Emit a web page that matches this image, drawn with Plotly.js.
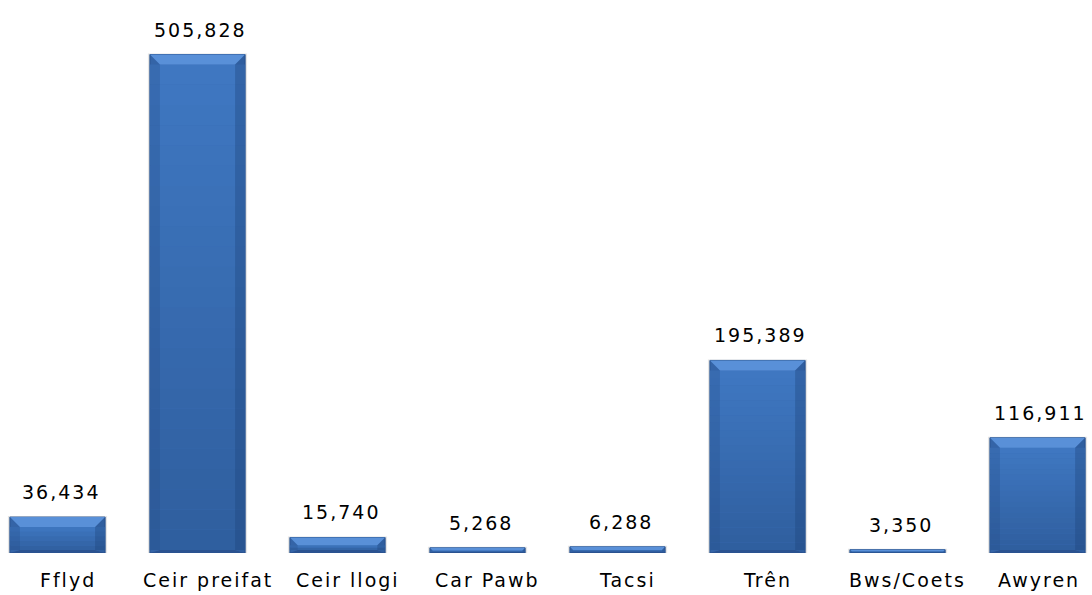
<!DOCTYPE html>
<html>
<head>
<meta charset="utf-8">
<script src="https://cdn.plot.ly/plotly-3.0.1.min.js"></script>
<style>
html,body{margin:0;padding:0;background:#fff;}
#chart{width:1092px;height:595px;}
#chart .annotation-text{letter-spacing:2px;}
</style>
</head>
<body>
<div id="chart"></div>
<script>
const categories = ["Fflyd", "Ceir preifat", "Ceir llogi", "Car Pawb", "Tacsi", "Trên", "Bws/Coets", "Awyren"];
const values = [36434, 505828, 15740, 5268, 6288, 195389, 3350, 116911];
const valueLabels = ["36,434", "505,828", "15,740", "5,268", "6,288", "195,389", "3,350", "116,911"];

const W = 1092, H = 595, MB = 42;
const xRange = [-0.4107, 7.389];
const yRange = [0, 561130];
const barWidth = 0.68;
const plotH = H - MB;
const unitsPerPxY = (yRange[1] - yRange[0]) / plotH;
const unitsPerPxX = (xRange[1] - xRange[0]) / W;
const idx = categories.map((c, i) => i);

function mix(c1, c2, t) {
  const a = c1.match(/\w\w/g).map(h => parseInt(h, 16));
  const b = c2.match(/\w\w/g).map(h => parseInt(h, 16));
  return 'rgb(' + a.map((v, k) => Math.round(v + (b[k] - v) * t)).join(',') + ')';
}

const shapes = [];
idx.forEach(i => {
  const v = values[i];
  const hPx = v / unitsPerPxY;
  const bPx = Math.min(10, hPx / 2);
  const bbPx = Math.min(3, hPx / 4);
  const by = bPx * unitsPerPxY;
  const bx = bPx * unitsPerPxX;
  const bby = bbPx * unitsPerPxY;
  const x0 = i - barWidth / 2, x1 = i + barWidth / 2;
  const y0 = 0, y1 = v;
  const poly = (pts, color, layer) => shapes.push({
    type: 'path', xref: 'x', yref: 'y', layer: layer || 'above',
    path: 'M ' + pts.map(p => p[0] + ',' + p[1]).join(' L ') + ' Z',
    fillcolor: color, line: {width: 0}
  });
  // soft shadow
  const sx = 2 * unitsPerPxX, sy = 2 * unitsPerPxY;
  poly([[x0 - sx, y0], [x0 - sx, y1 + sy * 0.5], [x1 + sx, y1 + sy * 0.5], [x1 + sx, y0]], 'rgba(0,0,0,0.10)', 'below');
  // face gradient bands
  const n = Math.max(1, Math.min(24, Math.floor(hPx / 6)));
  const fy0 = y0 + bby, fy1 = y1 - by;
  for (let k = 0; k < n; k++) {
    const a = fy0 + (fy1 - fy0) * k / n;
    const b = fy0 + (fy1 - fy0) * (k + 1) / n;
    const t = (k + 0.5) / n;
    poly([[x0, a], [x1, a], [x1, b], [x0, b]], mix('2f5e9e', '3f78c2', t));
  }
  // top bevel
  poly([[x0, y1], [x1, y1], [x1 - bx, y1 - by], [x0 + bx, y1 - by]], '#5990d8');
  // left bevel
  poly([[x0, y1], [x0 + bx, y1 - by], [x0 + bx, y0 + bby], [x0, y0]], 'rgba(40,80,140,0.30)');
  // right bevel
  poly([[x1, y1], [x1, y0], [x1 - bx, y0 + bby], [x1 - bx, y1 - by]], 'rgba(30,65,120,0.35)');
  // bottom bevel
  poly([[x0, y0], [x0 + bx, y0 + bby], [x1 - bx, y0 + bby], [x1, y0]], '#2a5290');
});

const trace = {
  type: 'bar',
  x: idx,
  y: values,
  width: barWidth,
  marker: {color: '#3a6db4', line: {color: '#2c5590', width: 1}},
  hoverinfo: 'skip'
};

const lastIdx = idx.length - 1;
const valueAnnotations = idx.map(i => ({
  x: i, y: values[i], xref: 'x', yref: 'y',
  text: valueLabels[i], showarrow: false,
  yanchor: 'middle', yshift: 25, xshift: 3,
  font: {family: 'DejaVu Sans', size: 19, color: '#000'}
}));
const categoryAnnotations = idx.map(i => ({
  x: i, y: 0, xref: 'x', yref: 'y',
  text: categories[i], showarrow: false,
  yanchor: 'middle', yshift: -27, xshift: i === lastIdx ? 1 : 10,
  font: {family: 'DejaVu Sans', size: 19, color: '#000'}
}));

const layout = {
  width: W, height: H,
  margin: {l: 0, r: 0, t: 0, b: MB, pad: 0},
  paper_bgcolor: '#fff', plot_bgcolor: '#fff',
  showlegend: false,
  xaxis: {
    type: 'linear', range: xRange, tickvals: idx,
    showticklabels: false,
    showgrid: false, zeroline: false, showline: false, ticks: '',
    fixedrange: true
  },
  yaxis: {
    range: yRange, showgrid: false, zeroline: false, showline: false,
    showticklabels: false, ticks: '', fixedrange: true
  },
  shapes: shapes,
  annotations: valueAnnotations.concat(categoryAnnotations)
};

Plotly.newPlot('chart', [trace], layout, {displayModeBar: false, staticPlot: true});
</script>
</body>
</html>
